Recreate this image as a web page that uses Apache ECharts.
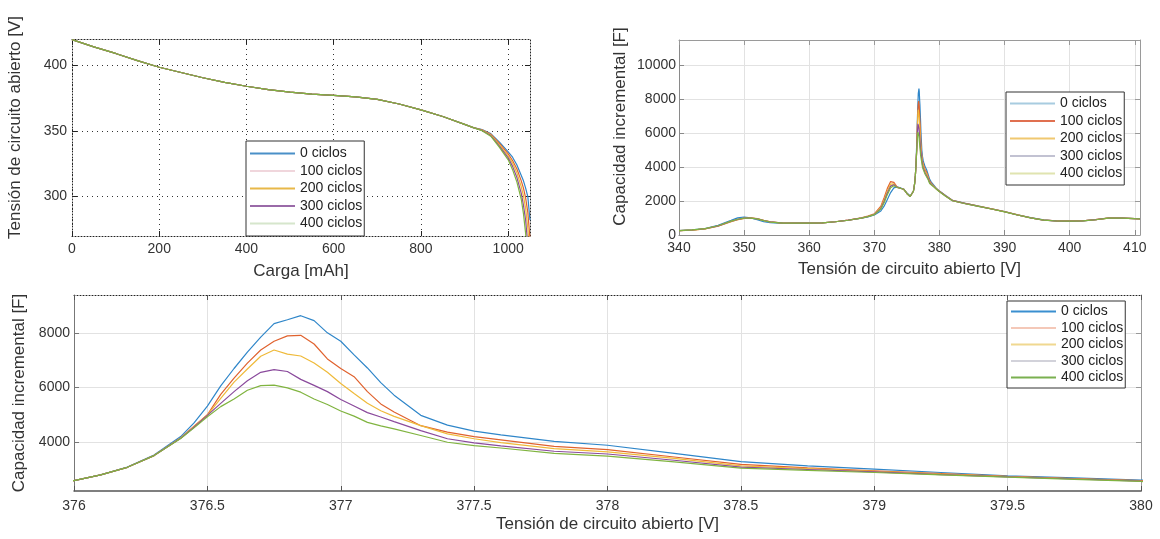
<!DOCTYPE html>
<html>
<head>
<meta charset="utf-8">
<script src="https://cdn.jsdelivr.net/npm/echarts@6/dist/echarts.min.js"></script>
<style>
html,body{margin:0;padding:0;background:#ffffff;}
#c{width:1160px;height:539px;}
</style>
</head>
<body>
<div id="c"></div>
<script>
// ---------------- DATA ----------------
const cycleNames = ['0 ciclos', '100 ciclos', '200 ciclos', '300 ciclos', '400 ciclos'];

// Panel 1: open-circuit voltage vs charge
const chargeMah = [0, 50, 100, 150, 200, 250, 300, 350, 400, 450, 500, 550, 600, 650, 700, 750, 800, 850, 900, 920,
  940, 960, 980, 1000, 1010, 1020, 1030, 1035, 1040, 1045, 1050];
const ocv0   = [419.5, 414, 409, 403.5, 398.5, 394.5, 390.5, 387, 384, 381.5, 379.5, 378, 377, 376, 374, 370.5, 366, 361, 355, 352.5,
  351, 348, 341.5, 334, 330, 324, 316, 312, 306.5, 300, 282];
const ocv100 = [419.5, 414, 409, 403.5, 398.5, 394.5, 390.5, 387, 384, 381.5, 379.5, 378, 377, 376, 374, 370.5, 366, 361, 355, 352.5,
  350.8, 347.5, 340.5, 332.5, 327.5, 321, 312, 306.5, 299, 288, 268];
const ocv200 = [419.5, 414, 409, 403.5, 398.5, 394.5, 390.5, 387, 384, 381.5, 379.5, 378, 377, 376, 374, 370.5, 366, 361, 355, 352.5,
  350.6, 347, 339.5, 331, 325.5, 318, 307.5, 300.5, 291, 276, 255];
const ocv300 = [419.5, 414, 409, 403.5, 398.5, 394.5, 390.5, 387, 384, 381.5, 379.5, 378, 377, 376, 374, 370.5, 366, 361, 355, 352.5,
  350.4, 346.5, 338.5, 329.5, 323, 314.5, 302.5, 293.5, 282, 263, 242];
const ocv400 = [419.5, 414, 409, 403.5, 398.5, 394.5, 390.5, 387, 384, 381.5, 379.5, 378, 377, 376, 374, 370.5, 366, 361, 355, 352.5,
  350.2, 346, 337.5, 328, 320.5, 311, 298, 287, 272, 250, 230];

// Panels 2 and 3: incremental capacity vs open-circuit voltage
const icVoltage = [340, 342, 344, 346, 348, 349, 350, 351, 352, 353, 354, 356, 358, 360, 362, 364, 366, 368, 369, 370,
  371, 371.5, 372, 372.5, 373, 373.5, 374, 374.5, 375, 375.5,
  376.0, 376.1, 376.2, 376.3, 376.4, 376.45, 376.5, 376.55, 376.6, 376.65, 376.7, 376.75, 376.8, 376.85, 376.9, 376.95,
  377.0, 377.05, 377.1, 377.15, 377.2, 377.3, 377.4, 377.5, 377.6, 377.8, 378.0, 378.25, 378.5, 378.75, 379.0, 379.25,
  379.5, 379.75, 380.0,
  381, 382, 384, 386, 388, 390, 392, 394, 396, 398, 400, 402, 404, 406, 408, 410, 410.8];
const ic0 = [260, 300, 380, 570, 860, 1010, 1060, 1010, 900, 790, 730, 690, 700, 700, 720, 780, 870, 990, 1070, 1180,
  1420, 1700, 2100, 2500, 2780, 2840, 2780, 2700, 2480, 2300,
  2580, 2790, 3080, 3520, 4200, 4700, 5320, 6060, 6700, 7300, 7850, 8350, 8490, 8640, 8460, 8010,
  7700, 7200, 6720, 6180, 5720, 4980, 4620, 4400, 4260, 4020, 3880, 3580, 3280, 3120, 3000, 2880,
  2760, 2680, 2600,
  2320, 2050, 1870, 1710, 1550, 1380, 1190, 1020, 890, 820, 800, 830, 900, 1010, 1000, 970, 960];
const ic100 = [250, 290, 360, 520, 790, 900, 980, 1010, 970, 870, 780, 700, 700, 700, 720, 780, 880, 1010, 1110, 1250,
  1700, 2200, 2750, 3150, 3100, 2820, 2760, 2700, 2450, 2270,
  2580, 2790, 3070, 3500, 4150, 4580, 5000, 5750, 6350, 6900, 7380, 7700, 7900, 7920, 7600, 7050,
  6700, 6400, 5850, 5400, 5100, 4600, 4360, 4200, 4080, 3840, 3720, 3450, 3180, 3050, 2940, 2840,
  2740, 2660, 2580,
  2300, 2040, 1860, 1700, 1545, 1375, 1185, 1015, 880, 830, 830, 840, 910, 1000, 995, 965, 955];
const ic200 = [255, 292, 365, 530, 800, 910, 985, 1005, 960, 860, 775, 700, 700, 700, 720, 780, 875, 1000, 1095, 1225,
  1620, 2080, 2600, 3000, 3020, 2810, 2760, 2700, 2450, 2270,
  2580, 2790, 3070, 3500, 4150, 4560, 4990, 5600, 6200, 6680, 7150, 7380, 7230, 7160, 6900, 6560,
  6150, 5780, 5420, 5150, 4940, 4600, 4300, 4120, 3980, 3760, 3640, 3400, 3120, 3020, 2920, 2820,
  2730, 2650, 2570,
  2290, 2030, 1855, 1695, 1540, 1372, 1182, 1012, 885, 835, 825, 835, 905, 1005, 995, 965, 955];
const ic300 = [255, 295, 368, 535, 810, 920, 990, 1000, 955, 855, 770, 695, 700, 700, 720, 780, 872, 995, 1085, 1210,
  1570, 1980, 2480, 2880, 2960, 2800, 2760, 2700, 2450, 2270,
  2580, 2790, 3070, 3500, 4140, 4540, 4980, 5420, 5850, 6250, 6560, 6660, 6590, 6300, 6080, 5850,
  5560, 5320, 5080, 4920, 4750, 4420, 4120, 3970, 3860, 3660, 3560, 3330, 3080, 2990, 2900, 2800,
  2720, 2640, 2560,
  2280, 2025, 1850, 1690, 1535, 1370, 1180, 1010, 882, 828, 820, 832, 902, 1002, 992, 962, 952];
const ic400 = [258, 297, 372, 545, 820, 930, 995, 1000, 950, 850, 765, 695, 700, 700, 720, 780, 870, 992, 1080, 1200,
  1530, 1900, 2380, 2780, 2900, 2800, 2760, 2700, 2450, 2270,
  2580, 2790, 3070, 3500, 4130, 4520, 4930, 5300, 5580, 5900, 6070, 6090, 5990, 5830, 5580, 5380,
  5140, 4950, 4720, 4590, 4480, 4240, 3990, 3870, 3780, 3580, 3480, 3270, 3040, 2960, 2880, 2790,
  2710, 2630, 2550,
  2270, 2020, 1845, 1688, 1532, 1368, 1178, 1008, 880, 825, 815, 830, 900, 1000, 990, 960, 950];

// Tick labels
const chargeTicks = [0, 200, 400, 600, 800, 1000];
const ocvTicks = [300, 350, 400];
const icVoltTicks = [340, 350, 360, 370, 380, 390, 400, 410];
const icTicks = [0, 2000, 4000, 6000, 8000, 10000];
const zoomIcTicks = [4000, 6000, 8000];

// ---------------- STYLE ----------------
const FONT = 'Liberation Sans';
const TXT = '#333333';
const lineColors = ['#2f86c9', '#e0622e', '#efba3a', '#8a4a9c', '#80b440'];
const legendColsTL = ['#4a90c8', '#f0d6dc', '#e8b848', '#9a6aa8', '#d6e6cc'];
const legendColsTR = ['#a8cce0', '#e07050', '#f0c870', '#c2c2d2', '#e0e4b0'];
const legendColsB  = ['#3a8fd0', '#f4c8b8', '#f0d890', '#d2d2da', '#7ab050'];

const ocvSeries = [ocv0, ocv100, ocv200, ocv300, ocv400];
const icSeries = [ic0, ic100, ic200, ic300, ic400];

function valAxis(o) {
  const base = {
    type: 'value',
    gridIndex: o.grid,
    position: o.pos,
    min: o.min, max: o.max,
    interval: o.interval,
    name: o.name || '',
    nameLocation: 'middle',
    nameGap: o.nameGap || 0,
    nameTextStyle: {fontFamily: FONT, fontSize: 17, color: TXT, padding: o.namePad || 0},
    axisLine: {show: true, onZero: false, lineStyle: {color: o.lineColor, width: o.lineWidth || 1, type: o.lineType || 'solid'}},
    axisTick: {show: true, inside: true, length: 5, lineStyle: {color: o.tickColor || o.lineColor, width: 1}},
    axisLabel: {show: !!o.labels, margin: o.margin || 6, fontFamily: FONT, fontSize: 14, color: TXT,
      formatter: v => String(v)},
    splitLine: {show: !!o.split, lineStyle: o.splitStyle || {}},
    silent: true
  };
  if (o.ticks) {
    base.axisTick.customValues = o.ticks;
    base.axisLabel.customValues = o.ticks;
  }
  return base;
}

const dotted = [1, 2];
const sparse = [1, 4];

const xAxes = [
  valAxis({grid: 0, pos: 'bottom', min: 0, max: 1050, ticks: chargeTicks, labels: true, name: 'Carga [mAh]', nameGap: 27,
    lineColor: '#222', lineType: dotted, split: true, splitStyle: {color: '#333', type: sparse, width: 1}}),
  valAxis({grid: 0, pos: 'top', min: 0, max: 1050, ticks: chargeTicks, lineColor: '#222', lineType: dotted}),
  valAxis({grid: 1, pos: 'bottom', min: 340, max: 410.8, ticks: icVoltTicks, labels: true, name: 'Tensión de circuito abierto [V]', nameGap: 26,
    lineColor: '#8a8a8a', split: true, splitStyle: {color: '#e2e2e2', width: 1}}),
  valAxis({grid: 1, pos: 'top', min: 340, max: 410.8, ticks: icVoltTicks, lineColor: '#9a9a9a'}),
  valAxis({grid: 2, pos: 'bottom', min: 376, max: 380, interval: 0.5, labels: true, name: 'Tensión de circuito abierto [V]', nameGap: 25, margin: 8,
    lineColor: '#555', lineWidth: 1.5, split: true, splitStyle: {color: '#e2e2e2', width: 1}}),
  valAxis({grid: 2, pos: 'top', min: 376, max: 380, interval: 0.5, lineColor: '#222', lineType: dotted, tickColor: '#555'})
];
const yAxes = [
  valAxis({grid: 0, pos: 'left', min: 270, max: 420, ticks: ocvTicks, labels: true, name: 'Tensión de circuito abierto [V]', nameGap: 48, margin: 5,
    namePad: [0, 0, 0, 20],
    lineColor: '#222', lineType: dotted, split: true, splitStyle: {color: '#333', type: sparse, width: 1}}),
  valAxis({grid: 0, pos: 'right', min: 270, max: 420, ticks: ocvTicks, lineColor: '#222', lineType: dotted}),
  valAxis({grid: 1, pos: 'left', min: 0, max: 11500, ticks: icTicks, labels: true, name: 'Capacidad incremental [F]', nameGap: 50, margin: 3,
    namePad: [0, 0, 0, 22],
    lineColor: '#8a8a8a', split: true, splitStyle: {color: '#e2e2e2', width: 1}}),
  valAxis({grid: 1, pos: 'right', min: 0, max: 11500, ticks: icTicks, lineColor: '#9a9a9a'}),
  valAxis({grid: 2, pos: 'left', min: 2200, max: 9400, ticks: zoomIcTicks, labels: true, name: 'Capacidad incremental [F]', nameGap: 45, margin: 4,
    lineColor: '#777', split: true, splitStyle: {color: '#e2e2e2', width: 1}}),
  valAxis({grid: 2, pos: 'right', min: 2200, max: 9400, ticks: zoomIcTicks, lineColor: '#999'})
];

const series = [];
cycleNames.forEach((name, k) => {
  series.push({
    name, type: 'line', xAxisIndex: 0, yAxisIndex: 0, showSymbol: false, symbol: 'none', clip: true,
    lineStyle: {width: 1.2, color: lineColors[k]}, itemStyle: {color: lineColors[k]},
    data: chargeMah.map((c, i) => [c, ocvSeries[k][i]])
  });
});
cycleNames.forEach((name, k) => {
  series.push({
    name, type: 'line', xAxisIndex: 2, yAxisIndex: 2, showSymbol: false, symbol: 'none', clip: true,
    lineStyle: {width: 1.2, color: lineColors[k]}, itemStyle: {color: lineColors[k]},
    data: icVoltage.map((v, i) => [v, icSeries[k][i]])
  });
});
cycleNames.forEach((name, k) => {
  series.push({
    name, type: 'line', xAxisIndex: 4, yAxisIndex: 4, showSymbol: false, symbol: 'none', clip: true,
    lineStyle: {width: 1.2, color: lineColors[k]}, itemStyle: {color: lineColors[k]},
    data: icVoltage.map((v, i) => [v, icSeries[k][i]])
  });
});

function makeLegend(left, top, cols, gap, pad) {
  return {
    left, top, orient: 'vertical', selectedMode: false,
    icon: 'rect', itemWidth: 45, itemHeight: 2, itemGap: gap,
    padding: pad,
    borderColor: '#333', borderWidth: 1, backgroundColor: '#ffffff',
    textStyle: {fontFamily: FONT, fontSize: 14, color: '#222', lineHeight: 15},
    data: cycleNames.map((n, i) => ({name: n, itemStyle: {color: cols[i]}}))
  };
}

const option = {
  animation: false,
  backgroundColor: '#ffffff',
  textStyle: {fontFamily: FONT},
  grid: [
    {left: 72, top: 39, width: 458, height: 197},
    {left: 679, top: 40, width: 461, height: 195},
    {left: 74, top: 295, width: 1067, height: 196}
  ],
  xAxis: xAxes,
  yAxis: yAxes,
  legend: [
    makeLegend(246, 141, legendColsTL, 2.5, [5, 2, 5, 4]),
    makeLegend(1006, 92, legendColsTR, 2.5, [4, 2, 4, 4]),
    makeLegend(1007, 301, legendColsB, 1.5, [3, 2, 3, 4])
  ],
  series
};

const chart = echarts.init(document.getElementById('c'), null, {renderer: 'canvas'});
chart.setOption(option);
</script>
</body>
</html>
